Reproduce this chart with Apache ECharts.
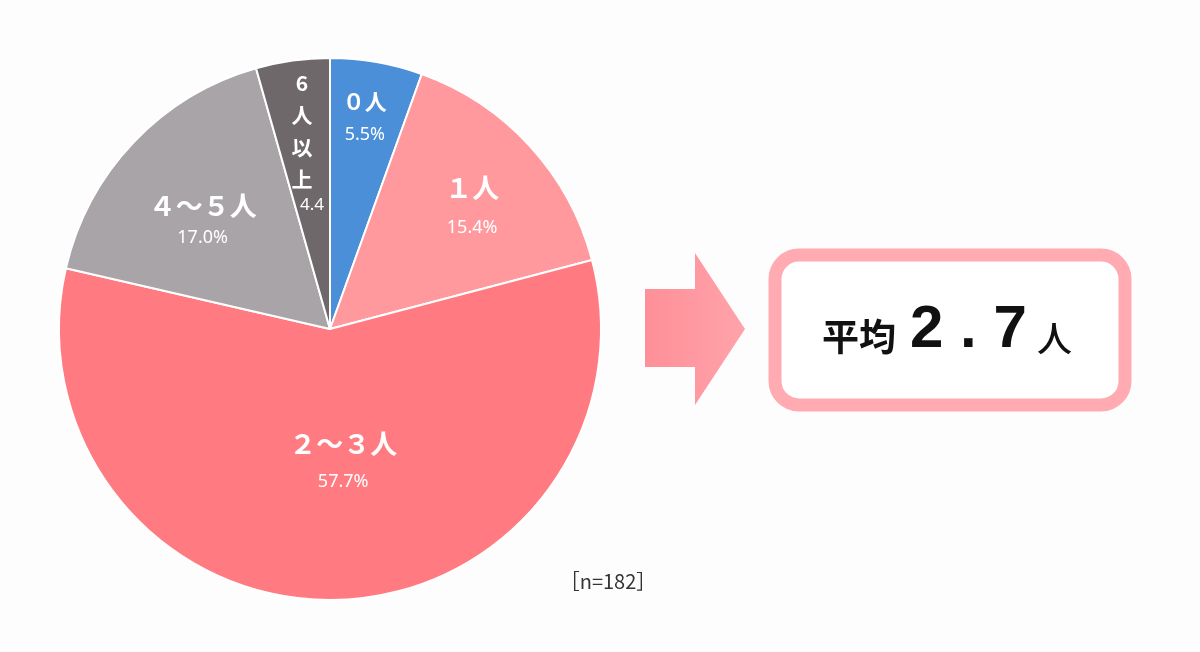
<!DOCTYPE html>
<html>
<head>
<meta charset="utf-8">
<script src="https://cdn.jsdelivr.net/npm/echarts@6/dist/echarts.min.js"></script>
<style>
html,body{margin:0;padding:0;background:#fdfdfd;}
#chart{width:1200px;height:652px;}
</style>
</head>
<body>
<div id="chart"></div>
<script>
// 世帯人数の分布
var categories = ['０人', '１人', '２～３人', '４～５人', '6人以上'];
var shares = [5.5, 15.4, 57.7, 17.0, 4.4];
var sampleSize = 182;
var average = '2.7';

var colors = ['#4a8fd8', '#ff999e', '#ff7b81', '#a9a4a7', '#6e686a'];
// label nudges from the inside position (px)
var labelShift = [[11, -76], [40, -33], [11, -9], [-27, -13], [-9, -51]];

var chart = echarts.init(document.getElementById('chart'));

var data = [];
for (var i = 0; i < categories.length; i++) {
    data.push({name: categories[i], value: shares[i], itemStyle: {color: colors[i]}});
}

function nameStyle(size, lh) {
    return {fontSize: size, fontWeight: 'bold', color: '#fff', fontFamily: 'Noto Sans CJK JP', lineHeight: lh};
}

var option = {
    backgroundColor: '#fdfdfd',
    animation: false,
    series: [{
        type: 'pie',
        center: [330, 329],
        radius: [0, 271],
        startAngle: 90,
        clockwise: true,
        data: data,
        itemStyle: {borderColor: '#ffffff', borderWidth: 2},
        label: {
            show: true,
            position: 'inside',
            color: '#fff',
            formatter: function (p) {
                if (p.dataIndex == 4) {
                    return '{v|' + p.name.split('').join('\n') + '}\n{s|' + p.value.toFixed(1) + '}';
                }
                return '{n' + p.dataIndex + '|' + p.name + '}\n{p|' + p.value.toFixed(1) + '%}';
            },
            rich: {
                n0: nameStyle(22, 36),
                n1: nameStyle(27, 50),
                n2: nameStyle(27, 46),
                n3: nameStyle(27, 34),
                v: {fontSize: 21, fontWeight: 'bold', color: '#fff', fontFamily: 'Noto Sans CJK JP', lineHeight: 32, align: 'center'},
                s: {fontSize: 17, color: '#fff', fontFamily: 'Noto Sans', lineHeight: 20, align: 'center', padding: [0, 0, 0, 20]},
                p: {fontSize: 18, color: '#fff', fontFamily: 'Noto Sans', lineHeight: 30}
            }
        },
        labelLayout: function (p) {
            var s = labelShift[p.dataIndex];
            return {dx: s[0], dy: s[1]};
        },
        labelLine: {show: false},
        emphasis: {disabled: true}
    }],
    graphic: [
        {
            type: 'polygon',
            shape: {points: [[645, 289], [695, 289], [695, 253], [745, 329], [695, 405], [695, 367], [645, 367]]},
            style: {
                fill: new echarts.graphic.LinearGradient(0, 0, 1, 0, [
                    {offset: 0, color: '#ff8f98'},
                    {offset: 1, color: '#ffa3aa'}
                ])
            }
        },
        {
            type: 'rect',
            shape: {x: 775, y: 255, width: 350, height: 150, r: 24},
            style: {fill: '#ffffff', stroke: '#ffabb1', lineWidth: 13}
        },
        {
            type: 'text',
            x: 822, y: 337,
            style: {text: '平均', font: 'bold 37px "Noto Sans CJK JP"', fill: '#111', textAlign: 'left', textVerticalAlign: 'middle'}
        },
        {
            type: 'text',
            x: 910, y: 330,
            style: {text: average.split('').join(' '), font: 'bold 60px "Liberation Sans"', fill: '#111', textAlign: 'left', textVerticalAlign: 'middle'}
        },
        {
            type: 'text',
            x: 1037, y: 339,
            style: {text: '人', font: '500 35px "Noto Sans CJK JP"', fill: '#111', textAlign: 'left', textVerticalAlign: 'middle'}
        },
        {
            type: 'text',
            x: 608, y: 581,
            style: {text: '［n=' + sampleSize + '］', font: '20px "Noto Sans CJK JP"', fill: '#333', textAlign: 'center', textVerticalAlign: 'middle'}
        }
    ]
};
chart.setOption(option);
</script>
</body>
</html>
